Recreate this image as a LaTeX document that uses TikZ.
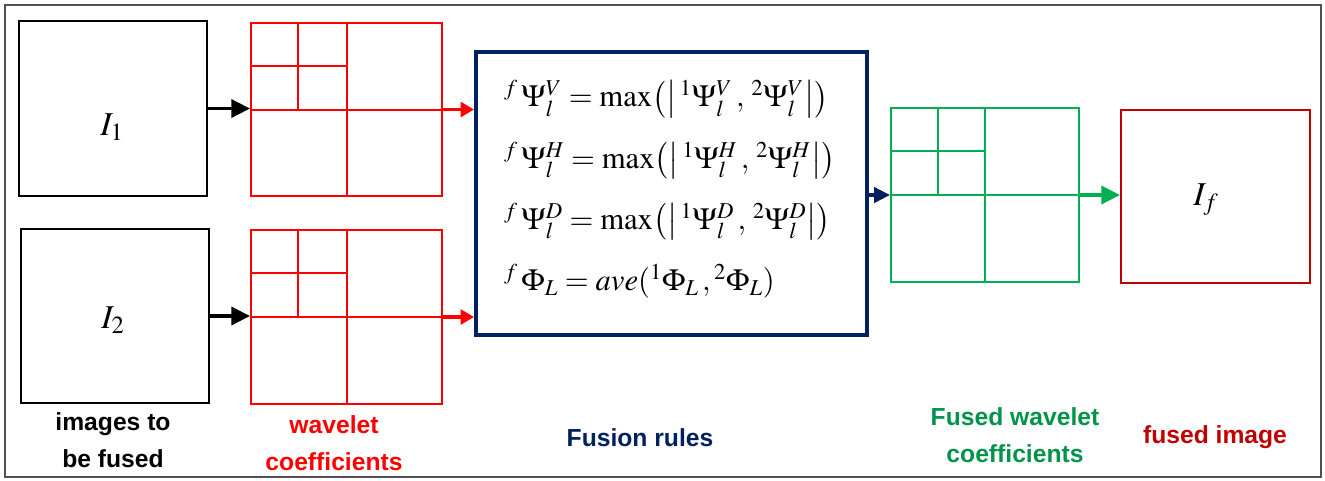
\documentclass[tikz,border=0pt]{standalone}
\usepackage{mathptmx}
\usepackage{amsmath}
\usepackage{fontspec}
\setmainfont{Liberation Serif}
\setsansfont{Liberation Sans}
\usetikzlibrary{fit,calc,arrows.meta}
\definecolor{navy}{HTML}{002060}
\definecolor{gridgreen}{HTML}{00B050}
\definecolor{txtgreen}{HTML}{00944A}
\definecolor{darkred}{HTML}{C00000}
\definecolor{framegray}{HTML}{505050}

% subdivision lines of a two-level wavelet decomposition drawn in node #1
\newcommand\coefgrid[2]{%
  \draw[#2] (#1.north) -- (#1.south) (#1.west) -- (#1.east)
    ($(#1.north west)!0.25!(#1.north east)$) -- ($(#1.west)!0.25!(#1.east)$)
    ($(#1.north west)!0.5!(#1.west)$) -- ($(#1.north)!0.5!(#1.center)$);}
% one fusion rule with a max of absolute values
\newcommand\maxrule[1]{%
  {}^{f}\,\Psi_{l}^{#1} = \max\bigl(\bigl|\,{}^{1}\Psi_{l}^{#1}\,,\,{}^{2}\Psi_{l}^{#1}\bigr|\bigr)}

\tikzset{
  box/.style={draw, inner sep=0pt, line width=1.5pt},
  gridline/.style={line width=1.5pt},
  flow/.style={line width=2.6pt, -{Triangle[length=14pt,width=13.5pt]}},
  caption/.style={font=\sffamily\bfseries\fontsize{18.5}{27.5}\selectfont, align=center},
  imglabel/.style={font=\fontsize{25}{30}\selectfont, text=black},
}

\begin{document}
\begin{tikzpicture}[x=0.75pt, y=-0.75pt]
\useasboundingbox (0,0) rectangle (1325,480);
\draw[framegray, line width=1.4pt] (5,5) rectangle (1321,477);

% input images
\node[box, fit={(19,21) (207,196)}] (img1) {};
\node[box, fit={(21,229) (209,403)}] (img2) {};
\node[imglabel] (lab1) at (112,127) {$I_1$};
\node[imglabel] (lab2) at (113,320) {$I_2$};

% wavelet coefficients of the inputs
\node[box, red, fit={(251,23) (442,196)}] (wc1) {};
\node[box, red, fit={(251,230) (442,404)}] (wc2) {};
\coefgrid{wc1}{red, gridline}
\coefgrid{wc2}{red, gridline}

% fusion rules
\node[draw=navy, line width=3pt, inner sep=0pt, fit={(476,52) (867,335)}] (rules) {};
\node[anchor=west, inner sep=0pt, font=\fontsize{23}{46}\selectfont, align=left]
  (ruletext) at ($(rules.west)+(30,-4)$)
  {$\maxrule{V}$\\
   $\maxrule{H}$\\
   $\maxrule{D}$\\
   ${}^{f}\,\Phi_{L} = ave({}^{1}\Phi_{L}\,,{}^{2}\Phi_{L})$};

% fused coefficients and fused image
\node[box, gridgreen, fit={(891,108) (1079,282)}] (fwc) {};
\coefgrid{fwc}{gridgreen, gridline}
\node[box, darkred, fit={(1121,110) (1310,283)}] (fused) {};
\node[imglabel] (labf) at (1206,200) {$I_f$};

% connectors
\draw[flow] (img1.east) -- (img1.east -| wc1.west);
\draw[flow] (img2.east) -- (img2.east -| wc2.west);
\draw[flow, red, -{Triangle[length=10pt,width=11pt]}] (wc1.east) -- (wc1.east -| rules.west);
\draw[flow, red, -{Triangle[length=10pt,width=11pt]}] (wc2.east) -- (wc2.east -| rules.west);
\draw[flow, navy, -{Triangle[length=12pt,width=11.5pt]}] (fwc.west -| rules.east) -- (fwc.west);
\draw[flow, gridgreen] (fwc.east) -- (fwc.east -| fused.west);

% captions
\node[caption] (capin) at (113,440) {images to\\be fused};
\node[caption, red] (capwc) at (334,443) {wavelet\\coefficients};
\node[caption, navy] (caprules) at (640,438) {Fusion rules};
\node[caption, txtgreen] (capfwc) at (1015,435) {Fused wavelet\\coefficients};
\node[caption, darkred] (capfused) at (1215,437) {fused image};
\end{tikzpicture}
\end{document}
